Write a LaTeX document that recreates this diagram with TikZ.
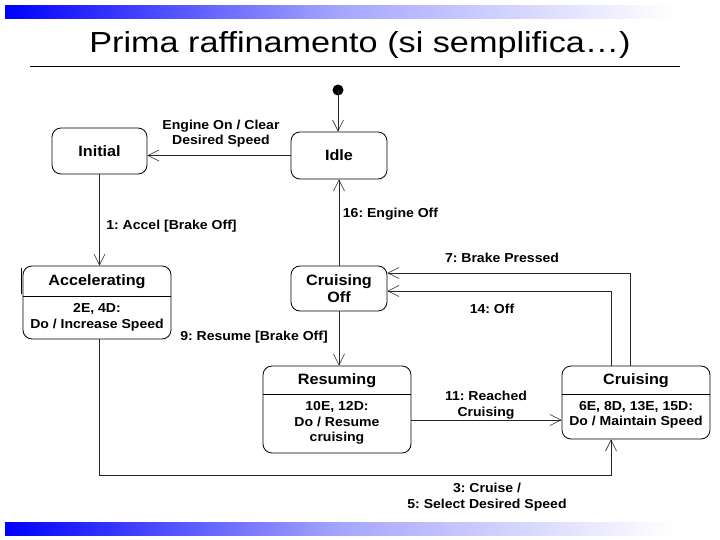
\documentclass[tikz,border=0pt]{standalone}
\usepackage{fontspec}
\setmainfont{Liberation Sans}[FakeStretch=1.08]
\newfontfamily\titlefont[FakeStretch=1.18]{Liberation Sans}
\usetikzlibrary{arrows.meta}
\frenchspacing
\begin{document}
\begin{tikzpicture}[x=1pt,y=-1pt,
  statebox/.style={draw=black,line width=0.8pt,rounded corners=9pt,inner sep=0pt},
  stitle/.style={font=\fontsize{15}{17}\selectfont\bfseries,inner sep=0pt},
  sbody/.style={font=\fontsize{13}{15.5}\selectfont\bfseries,align=center,inner sep=0pt},
  lbl/.style={font=\fontsize{13}{15.5}\selectfont\bfseries,align=center,inner sep=0pt},
  conn/.style={draw=black!85,line width=0.6pt,-{Straight Barb[length=11pt,width=11pt,line width=0.6pt]}},
  divline/.style={draw=black,line width=0.8pt}]
\useasboundingbox (0,0) rectangle (720,540);
\fill[white] (0,0) rectangle (720,540);
% bars
\shade[left color=blue,right color=white,middle color={rgb,255:red,165;green,165;blue,255}] (5,6) rectangle (673,19);
\shade[left color=blue,right color=white,middle color={rgb,255:red,165;green,165;blue,255}] (5,522) rectangle (673,535);
% title
\node[anchor=base,inner sep=0pt,font=\titlefont\fontsize{29}{33}\selectfont] (title) at (360,53) {Prima raffinamento (si semplifica…)};
\draw[line width=0.8pt] (30,66) -- (680,66);
% start
\fill (338,90) circle (5.5);
\coordinate (start) at (338,90);
% states
\node[statebox,minimum width=95pt,minimum height=46pt] (Initial) at (99.5,151) {};
\node[stitle] (tInitial) at (Initial) {Initial};
\node[statebox,minimum width=96pt,minimum height=47pt] (Idle) at (339,155.5) {};
\node[stitle] (tIdle) at (Idle) {Idle};
\node[statebox,minimum width=96pt,minimum height=45pt] (CrOff) at (339,288.5) {};
\node[stitle,align=center,font=\fontsize{15}{17.5}\selectfont\bfseries] (tCrOff) at (CrOff) {Cruising\\Off};
\node[statebox,minimum width=148pt,minimum height=73pt] (Acc) at (97,302.5) {};
\draw[divline] (23,296) -- (171,296);
\node[stitle] (tAcc) at (97,282) {Accelerating};
\node[sbody] (bAcc) at (97,317.5) {2E, 4D:\\Do / Increase Speed};
\node[statebox,minimum width=148pt,minimum height=87pt] (Res) at (337,409.5) {};
\draw[divline] (263,394) -- (411,394);
\node[stitle] (tRes) at (337,381) {Resuming};
\node[sbody] (bRes) at (337,423) {10E, 12D:\\Do / Resume\\cruising};
\node[statebox,minimum width=148pt,minimum height=73pt] (Cru) at (636,402.5) {};
\draw[divline] (562,394) -- (710,394);
\node[stitle] (tCru) at (636,381) {Cruising};
\node[sbody] (bCru) at (636,415) {6E, 8D, 13E, 15D:\\Do / Maintain Speed};
\draw[line width=0.6pt] (21,268) -- (21,294);
% connectors
\draw[conn] (start) -- (start |- Idle.north);
\draw[conn] (Idle.west) -- (Initial.east |- Idle.west);
\draw[conn] (Initial.south) -- (Initial.south |- Acc.north);
\draw[conn] (CrOff.north) -- (Idle.south);
\draw[conn] (CrOff.south) -- (CrOff.south |- Res.north);
\draw[conn] ([yshift=-10.5pt]Res.east) -- ([yshift=-17.5pt]Cru.west);
\draw[conn] ([xshift=-6pt]Cru.north) |- ([yshift=15.5pt]CrOff.east);
\draw[conn] ([xshift=-25pt]Cru.north) |- ([yshift=-2.5pt]CrOff.east);
\draw[conn] ([xshift=2pt]Acc.south) -- ++(0,136) -| ([xshift=-25pt]Cru.south);
% labels
\node[lbl] (l1) at (221,133.5) {Engine On / Clear\\Desired Speed};
\node[lbl] (l2) at (171.5,226) {1: Accel [Brake Off]};
\node[lbl] (l3) at (390.5,214) {16: Engine Off};
\node[lbl] (l4) at (502,258) {7: Brake Pressed};
\node[lbl] (l5) at (492,309) {14: Off};
\node[lbl] (l6) at (254,337) {9: Resume [Brake Off]};
\node[lbl] (l7) at (486,405) {11: Reached\\Cruising};
\node[lbl] (l8) at (487,497) {3: Cruise /\\5: Select Desired Speed};
\end{tikzpicture}
\end{document}
